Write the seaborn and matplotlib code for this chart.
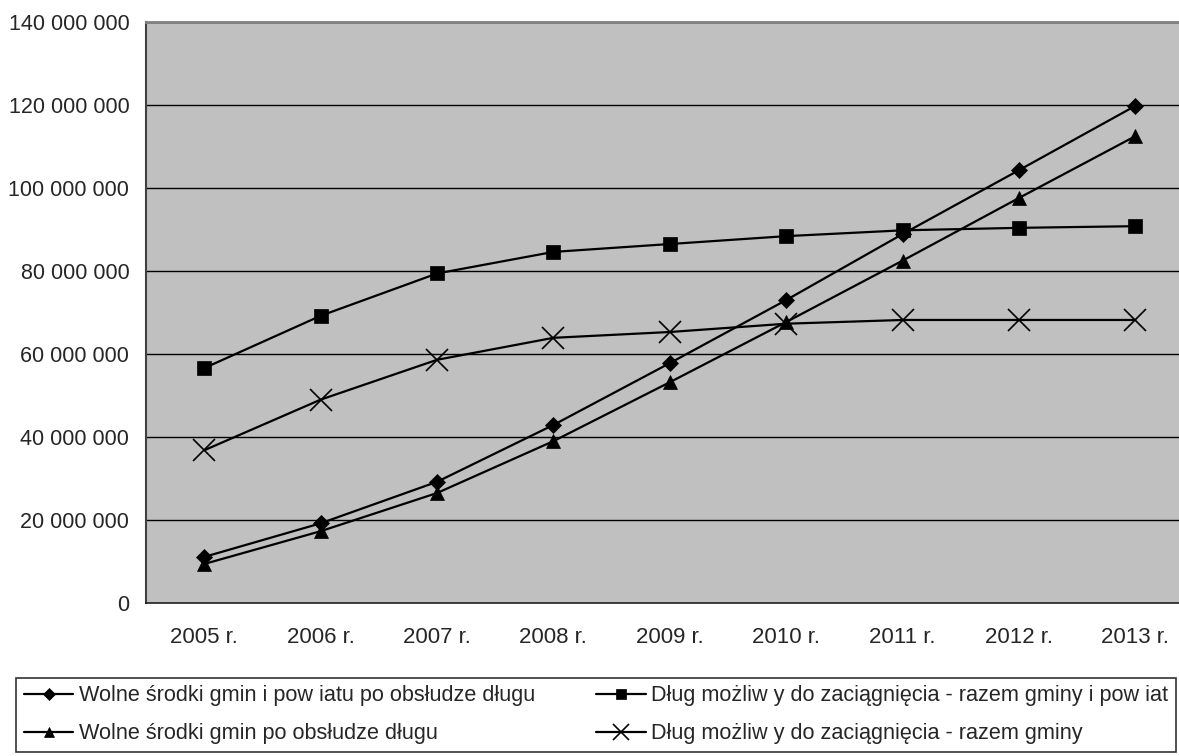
import pandas as pd
import seaborn as sns
import matplotlib.pyplot as plt
from matplotlib.ticker import FuncFormatter, FixedLocator

years = ['2005 r.', '2006 r.', '2007 r.', '2008 r.', '2009 r.',
         '2010 r.', '2011 r.', '2012 r.', '2013 r.']
wolne_gmin_powiat = [11.1e6, 19.2e6, 29.2e6, 42.9e6, 57.8e6, 73.0e6, 88.9e6, 104.3e6, 119.8e6]
wolne_gmin = [9.4e6, 17.3e6, 26.5e6, 39.0e6, 53.2e6, 67.7e6, 82.5e6, 97.6e6, 112.5e6]
dlug_gmin_powiat = [56.6e6, 69.2e6, 79.4e6, 84.6e6, 86.5e6, 88.4e6, 89.8e6, 90.4e6, 90.8e6]
dlug_gmin = [36.8e6, 49.0e6, 58.6e6, 63.9e6, 65.3e6, 67.3e6, 68.2e6, 68.2e6, 68.2e6]

names = ['Wolne środki gmin i pow iatu po obsłudze długu',
         'Wolne środki gmin po obsłudze długu',
         'Dług możliw y do zaciągnięcia - razem gminy i pow iat',
         'Dług możliw y do zaciągnięcia - razem gminy']
series = [wolne_gmin_powiat, wolne_gmin, dlug_gmin_powiat, dlug_gmin]

rows = []
for name, vals in zip(names, series):
    for i, v in enumerate(vals):
        rows.append({'pos': i, 'value': v, 'series': name})
df = pd.DataFrame(rows)

sns.set_style('white')
plt.rcParams['font.family'] = ['Liberation Sans', 'DejaVu Sans']

fig = plt.figure(figsize=(11.79, 7.56), dpi=100)
ax = fig.add_axes([146 / 1179, 1 - 603 / 756, 9 * 116.4 / 1179, 581 / 756])
ax.set_facecolor('#C0C0C0')

markers = {names[0]: 'D', names[1]: '^', names[2]: 's', names[3]: 'x'}
sizes = {names[0]: 8, names[1]: 10, names[2]: 10, names[3]: 16}
for name in names:
    sns.lineplot(data=df[df['series'] == name], x='pos', y='value', ax=ax,
                 color='black', linewidth=1.6, marker=markers[name],
                 markersize=sizes[name], markeredgewidth=1.2 if name == names[3] else 0.5,
                 markeredgecolor='black', label=name, zorder=3)

ax.set_xlim(-0.5, 8.5)
ax.set_ylim(0, 140e6)
ax.set_yticks(range(0, 140000001, 20000000))
ax.yaxis.set_major_formatter(FuncFormatter(lambda v, p: f'{int(v):,}'.replace(',', ' ')))
ax.set_xticks(range(9))
ax.set_xticklabels(years)
ax.xaxis.set_minor_locator(FixedLocator([i - 0.5 for i in range(10)]))
ax.tick_params(axis='x', which='major', length=0, pad=17, labelsize=16)
ax.tick_params(axis='x', which='minor', length=6, width=1, color='black', direction='out')
ax.tick_params(axis='y', length=6, width=1, color='black', direction='out', labelsize=15.5, pad=6)
ax.set_xlabel('')
ax.set_ylabel('')

for y in range(20000000, 140000001, 20000000):
    ax.axhline(y, color='black', linewidth=1, zorder=1)

ax.spines['top'].set_color('#808080')
ax.spines['top'].set_linewidth(2)
ax.spines['left'].set_color('#404040')
ax.spines['left'].set_linewidth(1.5)
ax.spines['bottom'].set_color('#202020')
ax.spines['bottom'].set_linewidth(1.2)
ax.spines['right'].set_visible(False)

handles, labels = ax.get_legend_handles_labels()
ax.get_legend().remove()
leg = fig.legend(handles, labels, ncol=2, loc='lower left',
                 bbox_to_anchor=(16 / 1179, 4 / 756, 1160 / 1179, 73 / 756),
                 mode='expand', fontsize=15.6, frameon=True, fancybox=False,
                 edgecolor='black', handlelength=2.3, handletextpad=0.25,
                 borderaxespad=0, labelspacing=0.8, borderpad=0.35,
                 markerscale=0.75)
leg.get_frame().set_linewidth(1.2)

fig.savefig('out.png', dpi=100)
